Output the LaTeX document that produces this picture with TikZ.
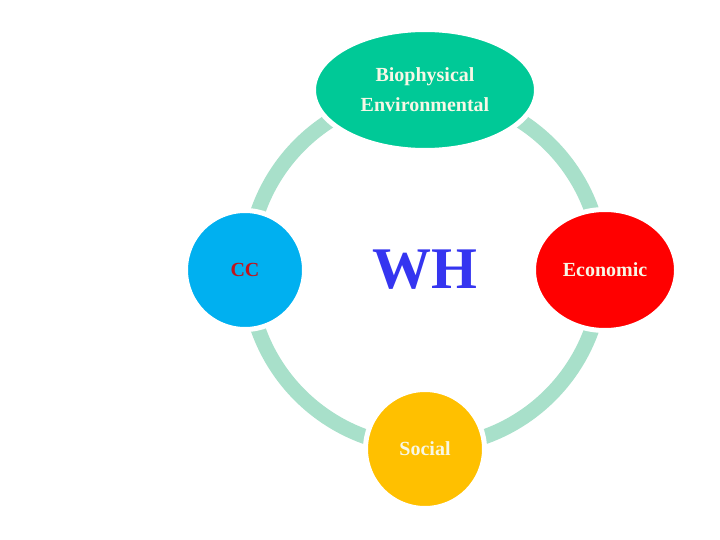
\documentclass[tikz,border=0pt]{standalone}
\usepackage{fontspec}
\setmainfont{Liberation Serif}
\usetikzlibrary{shapes.geometric}
\definecolor{cteal}{HTML}{00C997}
\definecolor{csky}{HTML}{00B0F0}
\definecolor{cred}{HTML}{FF0000}
\definecolor{cgold}{HTML}{FFC000}
\definecolor{cring}{HTML}{A8E0CA}
\definecolor{ccream}{HTML}{F7F7E6}
\definecolor{cdred}{HTML}{C0141C}
\definecolor{cwh}{HTML}{3535F0}

\begin{document}
\begin{tikzpicture}[x=1pt, y=-1pt,
  lbl/.style={font=\fontsize{20}{30}\selectfont\bfseries, text=ccream, align=center},
  blob/.style={ellipse, inner sep=0pt, draw=white, line width=5pt, lbl},
  ring/.style={draw=cring, line width=15pt}]
\useasboundingbox (0,0) rectangle (720,540);

% ---- hub and ring
\coordinate (hub) at (425,270);
\draw[ring] (hub) circle[radius=177];

% ---- the four parts
\node[blob, fill=cteal, minimum width=223pt, minimum height=121pt] (bio) at (425,90) {Biophysical\\Environmental};
\node[blob, fill=csky, minimum width=119pt, minimum height=119pt, text=cdred] (cc) at (245,270) {CC};
\node[blob, fill=cred, minimum width=143pt, minimum height=121pt] (eco) at (605,270) {Economic};
\node[blob, fill=cgold, minimum width=119pt, minimum height=119pt] (soc) at (425,449) {Social};

% ---- centre label
\node[font=\fontsize{59}{59}\selectfont\bfseries, text=cwh] (wh) at (hub) {WH};
\end{tikzpicture}
\end{document}
